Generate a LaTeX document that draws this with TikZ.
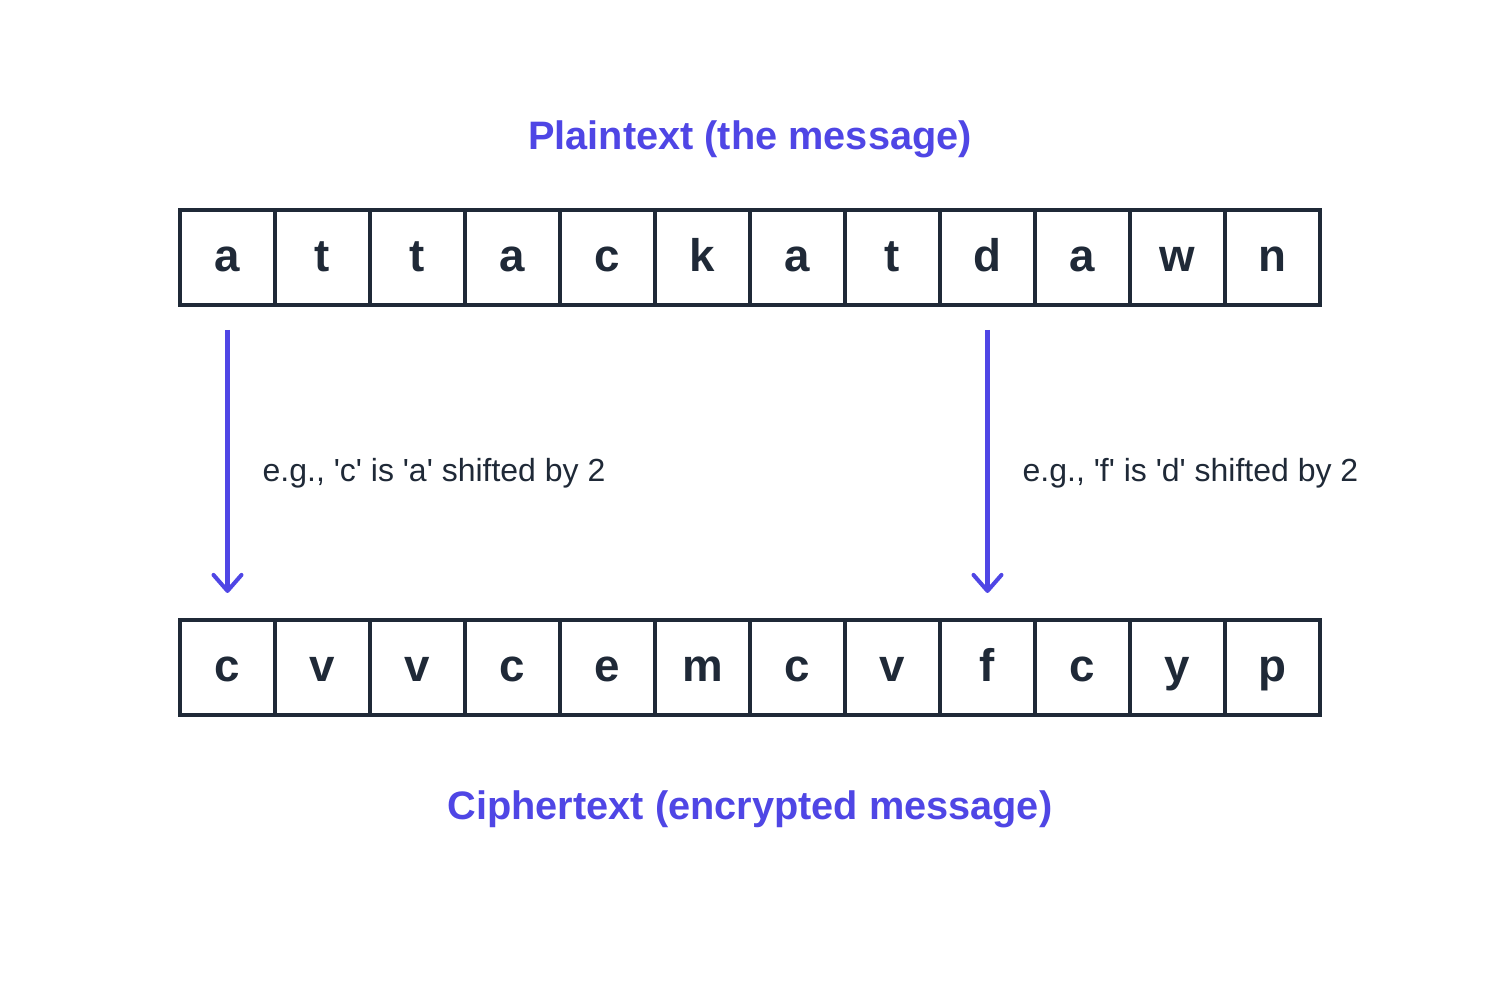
\documentclass[tikz,border=0pt]{standalone}
\usepackage{fontspec}
\setmainfont{Liberation Sans}[Ligatures=TeXOff]
\usetikzlibrary{positioning,arrows.meta}
\definecolor{indigo}{HTML}{4F46E5}
\definecolor{ink}{HTML}{1F2937}

\begin{document}
\begin{tikzpicture}[
        cell/.style = {rectangle, draw=ink, line width=1pt, minimum size=0.95cm, outer sep=0pt, inner sep=0pt,
                       text height=9.4pt, text depth=1.2pt, text=ink, font=\fontsize{13}{15}\selectfont\bfseries},
        heading/.style = {text=indigo, font=\fontsize{11.3}{13}\selectfont\bfseries},
        note/.style = {text=ink, font=\fontsize{9.1}{11}\selectfont, anchor=west, inner sep=0pt},
        shiftarrow/.style = {draw=indigo, line width=1.15pt, -{Straight Barb[round, length=1.6mm, width=2.8mm]}}
        ]
        \useasboundingbox (0,0) rectangle (15,10);
        \node[heading] (plain) at (7.5,8.61) {Plaintext (the message)};
        % plaintext row
        \node[cell] (p1) at (2.275,7.425) {a};
        \node[cell, right=0pt of p1] (p2) {t};
        \node[cell, right=0pt of p2] (p3) {t};
        \node[cell, right=0pt of p3] (p4) {a};
        \node[cell, right=0pt of p4] (p5) {c};
        \node[cell, right=0pt of p5] (p6) {k};
        \node[cell, right=0pt of p6] (p7) {a};
        \node[cell, right=0pt of p7] (p8) {t};
        \node[cell, right=0pt of p8] (p9) {d};
        \node[cell, right=0pt of p9] (p10) {a};
        \node[cell, right=0pt of p10] (p11) {w};
        \node[cell, right=0pt of p11] (p12) {n};
        % ciphertext row
        \node[cell] (c1) at (2.275,3.325) {c};
        \node[cell, right=0pt of c1] (c2) {v};
        \node[cell, right=0pt of c2] (c3) {v};
        \node[cell, right=0pt of c3] (c4) {c};
        \node[cell, right=0pt of c4] (c5) {e};
        \node[cell, right=0pt of c5] (c6) {m};
        \node[cell, right=0pt of c6] (c7) {c};
        \node[cell, right=0pt of c7] (c8) {v};
        \node[cell, right=0pt of c8] (c9) {f};
        \node[cell, right=0pt of c9] (c10) {c};
        \node[cell, right=0pt of c10] (c11) {y};
        \node[cell, right=0pt of c11] (c12) {p};
        \node[heading] (cipher) at (7.5,1.91) {Ciphertext (encrypted message)};
        % shift examples
        \draw[shiftarrow] ([yshift=-0.25cm]p1.south) -- ([yshift=0.27cm]c1.north);
        \draw[shiftarrow] ([yshift=-0.25cm]p9.south) -- ([yshift=0.27cm]c9.north);
        \node[note] (n1) at (2.62,5.27) {e.g., 'c' is 'a' shifted by 2};
        \node[note] (n2) at (10.22,5.27) {e.g., 'f' is 'd' shifted by 2};
\end{tikzpicture}
\end{document}
